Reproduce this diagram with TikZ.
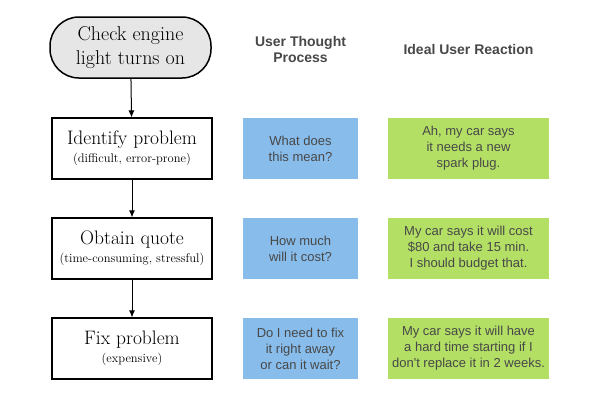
\documentclass[tikz,border=0pt]{standalone}
\usepackage{fontspec}
\newfontfamily\helv{Liberation Sans}
\usetikzlibrary{arrows.meta}
\definecolor{thoughtblue}{HTML}{88BDEB}
\definecolor{reactgreen}{HTML}{B3DF65}
\definecolor{inkgray}{HTML}{484848}
\definecolor{pillgray}{HTML}{E6E6E6}

\begin{document}
\begin{tikzpicture}[x=1pt, y=-1pt, every node/.style={text=black}]
  \useasboundingbox (0,0) rectangle (600,400);

  \tikzset{stage/.style={draw, line width=1.1pt, minimum width=160pt,
            minimum height=61pt, inner sep=0pt, align=center},
           thought/.style={fill=thoughtblue, minimum width=115pt, minimum height=61pt,
            inner sep=0pt, align=center, text=inkgray, font=\helv\fontsize{13}{16}\selectfont},
           reaction/.style={thought, fill=reactgreen, minimum width=161pt},
           heading/.style={align=center, text=inkgray, font=\helv\bfseries\fontsize{14}{16}\selectfont}}

  % the left column, set in a serif
  \node[draw, line width=1.5pt, fill=pillgray, rounded corners=29pt, minimum width=161pt,
        minimum height=61pt, inner sep=0pt, align=center,
        font=\fontsize{20}{24}\selectfont] (light) at (130.5,47.5) {Check engine\\light turns on};
  \node[stage] (identify) at (132,148.5)
    {{\fontsize{19.5}{22}\selectfont Identify problem}\\[4pt]{\fontsize{12.5}{14}\selectfont (difficult, error-prone)}};
  \node[stage] (quote) at (132,248.5)
    {{\fontsize{19.5}{22}\selectfont Obtain quote}\\[4pt]{\fontsize{12.5}{14}\selectfont (time-consuming, stressful)}};
  \node[stage] (fix) at (132,348.5)
    {{\fontsize{19.5}{22}\selectfont Fix problem}\\[4pt]{\fontsize{12.5}{14}\selectfont (expensive)}};

  \draw[-{Latex[length=7pt,width=6pt]}, line width=1pt] (light) -- (identify);
  \draw[-{Latex[length=7pt,width=6pt]}, line width=1pt] (identify) -- (quote);
  \draw[-{Latex[length=7pt,width=6pt]}, line width=1pt] (quote) -- (fix);

  \node[heading] (thinkhead) at (300.5,49) {User Thought\\Process};
  \node[heading] (reacthead) at (468.5,49) {Ideal User Reaction};

  \node[thought] (mean) at (300.5,148.5) {What does\\this mean?};
  \node[thought] (cost) at (300.5,248.5) {How much\\will it cost?};
  \node[thought] (wait) at (300.5,348.5) {Do I need to fix\\it right away\\or can it wait?};

  \node[reaction] (plug) at (468.5,148.5) {Ah, my car says\\it needs a new\\spark plug.};
  \node[reaction] (budget) at (468.5,248.5) {My car says it will cost\\\$80 and take 15 min.\\I should budget that.};
  \node[reaction] (weeks) at (468.5,348.5) {My car says it will have\\a hard time starting if I\\don't replace it in 2 weeks.};
\end{tikzpicture}
\end{document}
